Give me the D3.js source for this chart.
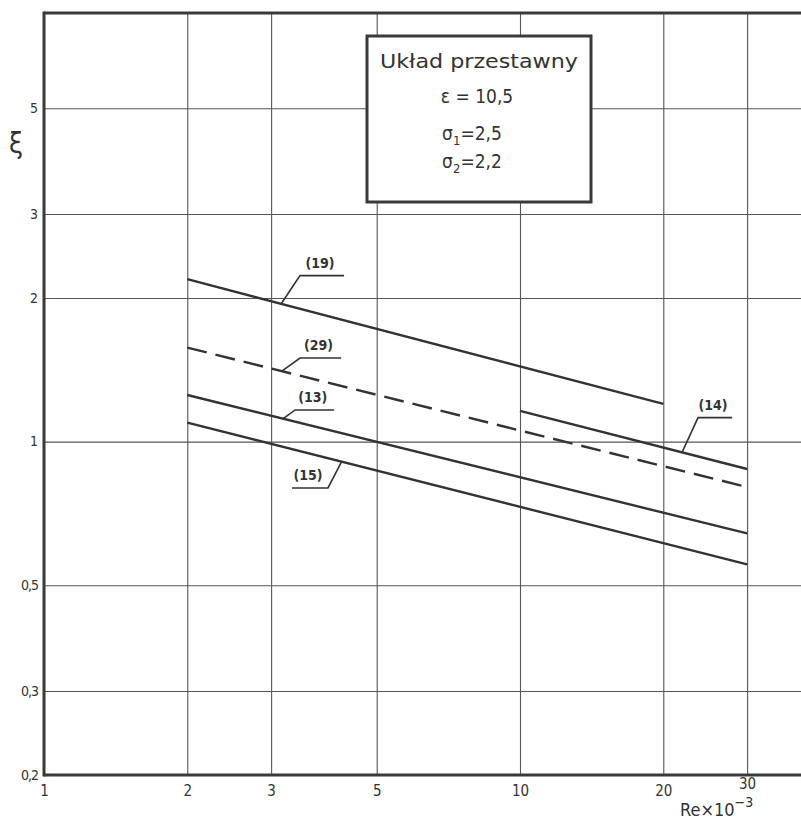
<!DOCTYPE html>
<html><head><meta charset="utf-8">
<script src="https://cdn.jsdelivr.net/npm/d3@7"></script>
<style>
body{margin:0;background:#fff;}
text{font-family:"DejaVu Sans Condensed","DejaVu Sans",sans-serif;fill:#333;}
</style></head>
<body><svg id="c" width="801" height="820"></svg>
<script>
// ---- data ----
const xTicks = [1, 2, 3, 5, 10, 20, 30];
const xTickLabels = ["1", "2", "3", "5", "10", "20", "30"];
const yTicks = [0.2, 0.3, 0.5, 1, 2, 3, 5];
const yTickLabels = ["0,2", "0,3", "0,5", "1", "2", "3", "5"];
const seriesNames = ["(19)", "(14)", "(29)", "(13)", "(15)"];
const seriesX = [[2, 20], [10, 30], [2, 30], [2, 30], [2, 30]];
const seriesY = [[2.19, 1.20], [1.16, 0.876], [1.574, 0.803], [1.252, 0.642], [1.096, 0.553]];
const seriesDashed = [false, false, true, false, false];
// label leader: anchor x on the line, elbow (x,y), underline end x  (data units)
const labelAnchorX = [3.15, 21.9, 3.16, 3.18, 4.22];
const labelElbow = [[3.45, 2.228], [23.66, 1.1227], [3.45, 1.497], [3.37, 1.165], [3.95, 0.7995]];
const labelEndX = [4.27, 27.9, 4.21, 4.07, 3.32];
const legendTitle = "Układ przestawny";
const legendLines = [["ε", "", " = 10,5"], ["σ", "1", "=2,5"], ["σ", "2", "=2,2"]];

// ---- scales ----
const svg = d3.select("#c");
const L = 44, B = 775, T = 13, R = 801;
const x = d3.scaleLog().domain([1, 40]).range([L, L + 476 * Math.log10(40)]);
const y = d3.scaleLog().domain([0.2, 7.92]).range([B, B - 477 * Math.log10(7.92 / 0.2)]);

const ink = "#3a3a3a";

// grid + x labels
const gx = svg.append("g").attr("transform", `translate(0,${B})`)
  .call(d3.axisBottom(x).tickValues(xTicks).tickSize(-(B - T)).tickPadding(10)
    .tickFormat((d, i) => xTickLabels[i]));
gx.select(".domain").remove();
gx.selectAll("line").attr("stroke", "#555").attr("stroke-width", 1.1);
gx.selectAll("text").style("font-size", "15px").attr("fill", "#333")
  .attr("y", (d) => d === 30 ? 3 : 10);

const gy = svg.append("g").attr("transform", `translate(${L},0)`)
  .call(d3.axisLeft(y).tickValues(yTicks).tickSize(-(R - L)).tickPadding(6)
    .tickFormat((d, i) => yTickLabels[i]));
gy.select(".domain").remove();
gy.selectAll("line").attr("stroke", "#555").attr("stroke-width", 1.1);
gy.selectAll("text").style("font-size", "14px").attr("fill", "#333")
  .attr("dy", "0.3em").attr("letter-spacing", (d) => d < 1 ? -1 : 0);

// frame
svg.append("line").attr("x1", L).attr("x2", L).attr("y1", T - 1.5).attr("y2", B + 1.5)
  .attr("stroke", ink).attr("stroke-width", 3);
svg.append("line").attr("x1", L).attr("x2", R).attr("y1", B).attr("y2", B)
  .attr("stroke", ink).attr("stroke-width", 3);
svg.append("line").attr("x1", L).attr("x2", R).attr("y1", T).attr("y2", T)
  .attr("stroke", ink).attr("stroke-width", 3);

// series lines
const line = d3.line().x(d => x(d[0])).y(d => y(d[1]));
function valueAt(i, xv) {
  const [x0, x1] = seriesX[i], [y0, y1] = seriesY[i];
  const s = Math.log(y1 / y0) / Math.log(x1 / x0);
  return y0 * Math.pow(xv / x0, s);
}
seriesNames.forEach((n, i) => {
  const pts = seriesX[i].map((xv, k) => [xv, seriesY[i][k]]);
  svg.append("path").attr("d", line(pts)).attr("fill", "none")
    .attr("stroke", "#333").attr("stroke-width", 2.4)
    .attr("stroke-dasharray", seriesDashed[i] ? "20,9" : null);
});

// labels with leaders
seriesNames.forEach((n, i) => {
  const ax = labelAnchorX[i], ay = valueAt(i, ax);
  const [ex, ey] = labelElbow[i];
  const pts = [[ax, ay], [ex, ey], [labelEndX[i], ey]];
  svg.append("path").attr("d", line(pts)).attr("fill", "none")
    .attr("stroke", "#333").attr("stroke-width", 1.6);
  const cx = (x(ex) + x(labelEndX[i])) / 2;
  svg.append("text").attr("x", cx - 2).attr("y", y(ey) - 8)
    .attr("text-anchor", "middle").style("font-size", "14px").style("font-weight", "bold")
    .attr("fill", "#2a2a2a").text(n);
});

// legend box
const lg = svg.append("g");
lg.append("rect").attr("x", 367).attr("y", 36).attr("width", 224).attr("height", 166)
  .attr("fill", "#fff").attr("stroke", ink).attr("stroke-width", 3);
lg.append("text").attr("x", 479).attr("y", 68).attr("text-anchor", "middle")
  .style("font-size", "20px").attr("textLength", 198).attr("lengthAdjust", "spacingAndGlyphs")
  .text(legendTitle);
const baseY = [103, 140, 168], cxs = [477, 472, 472];
legendLines.forEach((p, k) => {
  const t = lg.append("text").attr("x", cxs[k]).attr("y", baseY[k]).attr("text-anchor", "middle").style("font-size", "19px");
  t.append("tspan").text(p[0]);
  if (p[1]) {
    t.append("tspan").attr("dy", 5).style("font-size", "13px").text(p[1]);
    t.append("tspan").attr("dy", -5).text(p[2]);
  } else t.append("tspan").text(p[2]);
});

// axis titles
svg.append("text").attr("x", 16).attr("y", 153).attr("text-anchor", "middle")
  .style("font-size", "28px").text("ξ");
const xt = svg.append("text").attr("x", 680).attr("y", 816).style("font-size", "18px");
xt.append("tspan").text("Re×10");
xt.append("tspan").attr("dy", -9).style("font-size", "14px").text("−3");
</script></body></html>
